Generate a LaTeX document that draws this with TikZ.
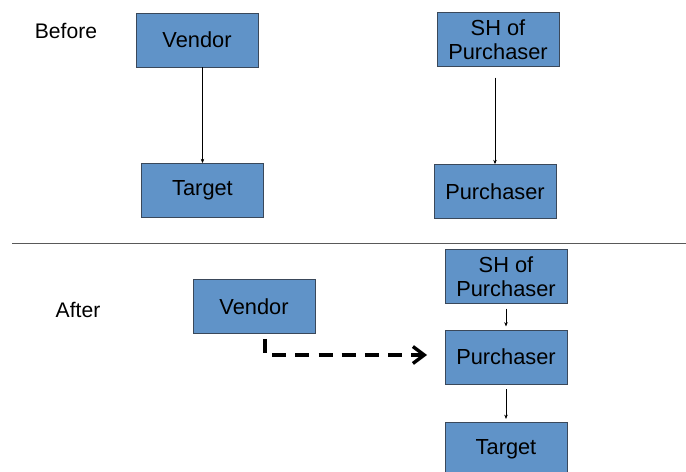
\documentclass[tikz,border=0pt]{standalone}
\usepackage{fontspec}
\setmainfont{Liberation Sans}
\usepackage{xcolor}
\usetikzlibrary{positioning,arrows.meta,calc}

\definecolor{boxblue}{RGB}{96,147,200}
\definecolor{boxedge}{RGB}{58,72,90}

\begin{document}
\begin{tikzpicture}[x=0.025cm, y=-0.025cm,
    entity/.style={draw=boxedge, line width=0.6pt, fill=boxblue, minimum width=3.05cm, minimum height=1.35cm, align=center, inner sep=1pt, font=\fontsize{15.5}{17}\selectfont},
    stage/.style={font=\fontsize{15}{17}\selectfont},
    link/.style={-{Stealth[length=3pt,width=2.5pt]}, line width=0.4pt},
    dasharrow/.style={-{Straight Barb[length=8pt,width=12pt]}, line width=2.4pt, dash pattern=on 10pt off 6.5pt}]

\useasboundingbox (0,0) rectangle (686,472);

% Before
\node[stage] (before) at (66,31) {Before};
\node[entity] (vendorB) at (197,40) {Vendor};
\node[entity] (targetB) at (202.5,190.5) {Target};
\node[entity] (shB) at (498,39.5) {SH of\\Purchaser};
\node[entity] (purchB) at (495,191.5) {Purchaser};

\draw[link] (vendorB.south -| targetB) -- (targetB.north);
\draw[link, shorten <=0.27cm] (shB.south -| purchB) -- (purchB.north);

% Divider
\draw[line width=0.5pt, gray!70!black] (12,243) -- (686,243);

% After
\node[stage] (after) at (78,310) {After};
\node[entity] (vendorA) at (254,306.5) {Vendor};
\node[entity] (shA) at (506,276.5) {SH of\\Purchaser};
\node[entity] (purchA) at (506,357) {Purchaser};
\node[entity] (targetA) at (506,449.5) {Target};

\draw[link, shorten <=0.12cm, shorten >=0.08cm] (shA) -- (purchA);
\draw[link, shorten <=0.12cm, shorten >=0.08cm] (purchA) -- (targetA);

% Dashed transfer
\coordinate (dashEnd) at (427,355);
\draw[dasharrow] ($(vendorA.south)+(11,5)$) |- (dashEnd);

\end{tikzpicture}
\end{document}
